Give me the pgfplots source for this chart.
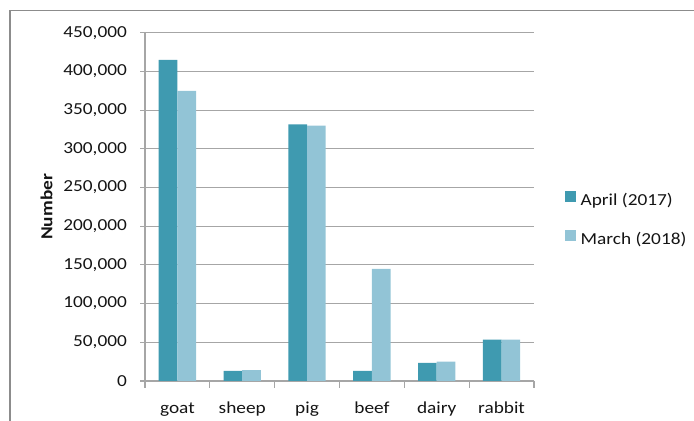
\documentclass[border=0pt]{standalone}
\usepackage{fontspec}
\setmainfont{Carlito}[FakeStretch=1.15]
\usepackage{pgfplots}
\pgfplotsset{compat=1.18}

\definecolor{aprilc}{HTML}{3F9AB0}
\definecolor{marchc}{HTML}{92C4D6}
\definecolor{gridc}{HTML}{A6A6A6}
\definecolor{framec}{HTML}{8C8C8C}
\definecolor{txt}{HTML}{141414}

\begin{document}
\fontsize{12.6pt}{15pt}\selectfont
\begin{tikzpicture}
\useasboundingbox (0,0) rectangle (520.5pt,315.75pt);
% outer chart frame (top and left edges)
\draw[framec, line width=1.1pt] (7.5pt,0pt) -- (7.5pt,307.7pt) -- (520.5pt,307.7pt);
\begin{axis}[
  at={(108.75pt,30pt)}, anchor=south west,
  scale only axis, width=291.75pt, height=261.2pt,
  ybar=0pt, bar width=14pt,
  xmin=-0.5, xmax=5.5, ymin=0, ymax=450000,
  axis lines=left, axis line style={gridc, line width=0.8pt, -},
  xtick={0,...,5},
  xticklabels={goat,sheep,pig,beef,dairy,rabbit},
  minor xtick={-0.5,0.5,...,5.5},
  ytick={0,50000,...,450000},
  ymajorgrids, major grid style={gridc, line width=0.8pt},
  tick align=outside,
  major tick length=3.4pt, minor tick length=5.25pt,
  major x tick style={draw=none},
  minor x tick style={gridc, line width=0.8pt},
  major y tick style={gridc, line width=0.8pt},
  scaled y ticks=false,
  /pgf/number format/.cd, fixed, precision=0, 1000 sep={,}, assume math mode=true,
  /pgfplots/.cd,
  tick label style={text=txt},
  yticklabel style={anchor=east, inner sep=0pt, xshift=-10pt},
  xticklabel style={anchor=base, inner sep=0pt, yshift=-20.8pt},
  ylabel={Number},
  every axis y label/.style={at={(axis description cs:-0.2532,0.5)}, rotate=90, anchor=center, font=\bfseries, text=txt},
  legend style={at={(rel axis cs:1.0797,0.463)}, anchor=west, draw=none, fill=none,
    inner sep=0pt, outer sep=0pt, row sep=15pt, column sep=3.5pt,
    nodes={inner sep=0pt, text height=9pt, text depth=3pt, text=txt}},
  legend cell align=left,
  legend image code/.code={\fill[#1] (0pt,-0.1pt) rectangle (8.25pt,8.15pt);},
]
\addplot[fill=aprilc, draw=none] coordinates {(0,415000) (1,13000) (2,331500) (3,13000) (4,23500) (5,53500)};
\addplot[fill=marchc, draw=none] coordinates {(0,375000) (1,14000) (2,330000) (3,145000) (4,25000) (5,53500)};
\legend{April (2017), March (2018)}
\end{axis}
\end{tikzpicture}
\end{document}
